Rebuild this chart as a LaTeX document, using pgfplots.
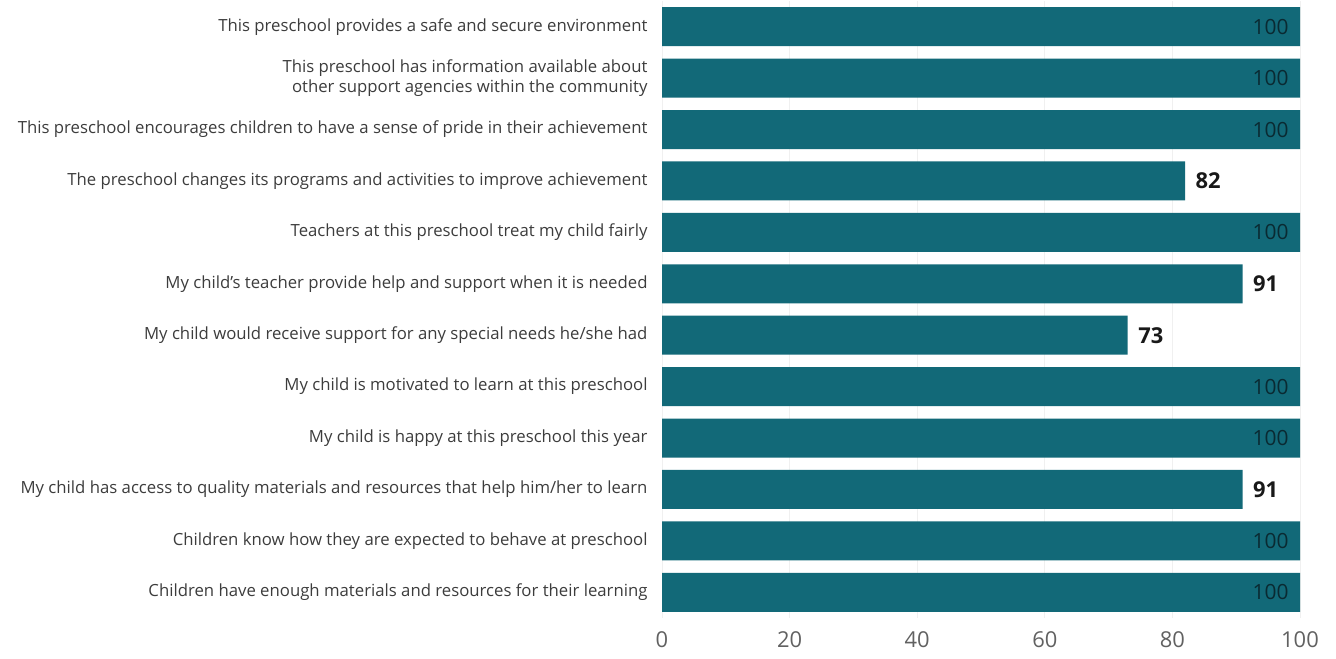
\documentclass[border=0pt]{standalone}
\usepackage{pgfplots}
\pgfplotsset{compat=1.18}
\usepackage{fontspec}
\setmainfont{Open Sans}
\definecolor{barc}{RGB}{18,105,120}
\definecolor{inlab}{RGB}{10,42,50}
\definecolor{lab}{RGB}{60,60,60}
\begin{document}
\begin{tikzpicture}
\begin{axis}[
  at={(662bp,41bp)}, anchor=south west,
  scale only axis, width=638bp, height=617bp,
  xbar, bar width=39bp,
  xmin=0, xmax=100, ymin=-0.5, ymax=11.5,
  axis line style={draw=none},
  major tick length=0pt,
  xtick={0,20,40,60,80,100},
  xmajorgrids, grid style={draw=black!6, line width=0.8pt},
  ytick={0,...,11},
  yticklabels={
    Children have enough materials and resources for their learning,
    Children know how they are expected to behave at preschool,
    My child has access to quality materials and resources that help him/her to learn,
    My child is happy at this preschool this year,
    My child is motivated to learn at this preschool,
    My child would receive support for any special needs he/she had,
    My child's teacher provide help and support when it is needed,
    Teachers at this preschool treat my child fairly,
    The preschool changes its programs and activities to improve achievement,
    This preschool encourages children to have a sense of pride in their achievement,
    {This preschool has information available about\\other support agencies within the community},
    This preschool provides a safe and secure environment},
  yticklabel style={font=\fontsize{16.8}{21}\selectfont, text=lab, align=right, xshift=-11bp},
  xticklabel style={font=\fontsize{22}{24}\selectfont, text=black!62, yshift=-10bp},
  /pgf/number format/assume math mode=true,
]
\addplot[fill=barc, draw=none, bar shift=0pt,
  nodes near coords, nodes near coords style={anchor=east, text=inlab, font=\fontsize{21}{23}\selectfont, xshift=-8bp}]
  coordinates {(100,0) (100,1) (100,3) (100,4) (100,7) (100,9) (100,10) (100,11)};
\addplot[fill=barc, draw=none, bar shift=0pt,
  nodes near coords, nodes near coords style={anchor=west, text=black!90, font=\bfseries\fontsize{22}{24}\selectfont, xshift=7bp}]
  coordinates {(91,2) (73,5) (91,6) (82,8)};
\end{axis}
\path[use as bounding box] (0,0) rectangle (1336bp,659bp);
\end{tikzpicture}
\end{document}
